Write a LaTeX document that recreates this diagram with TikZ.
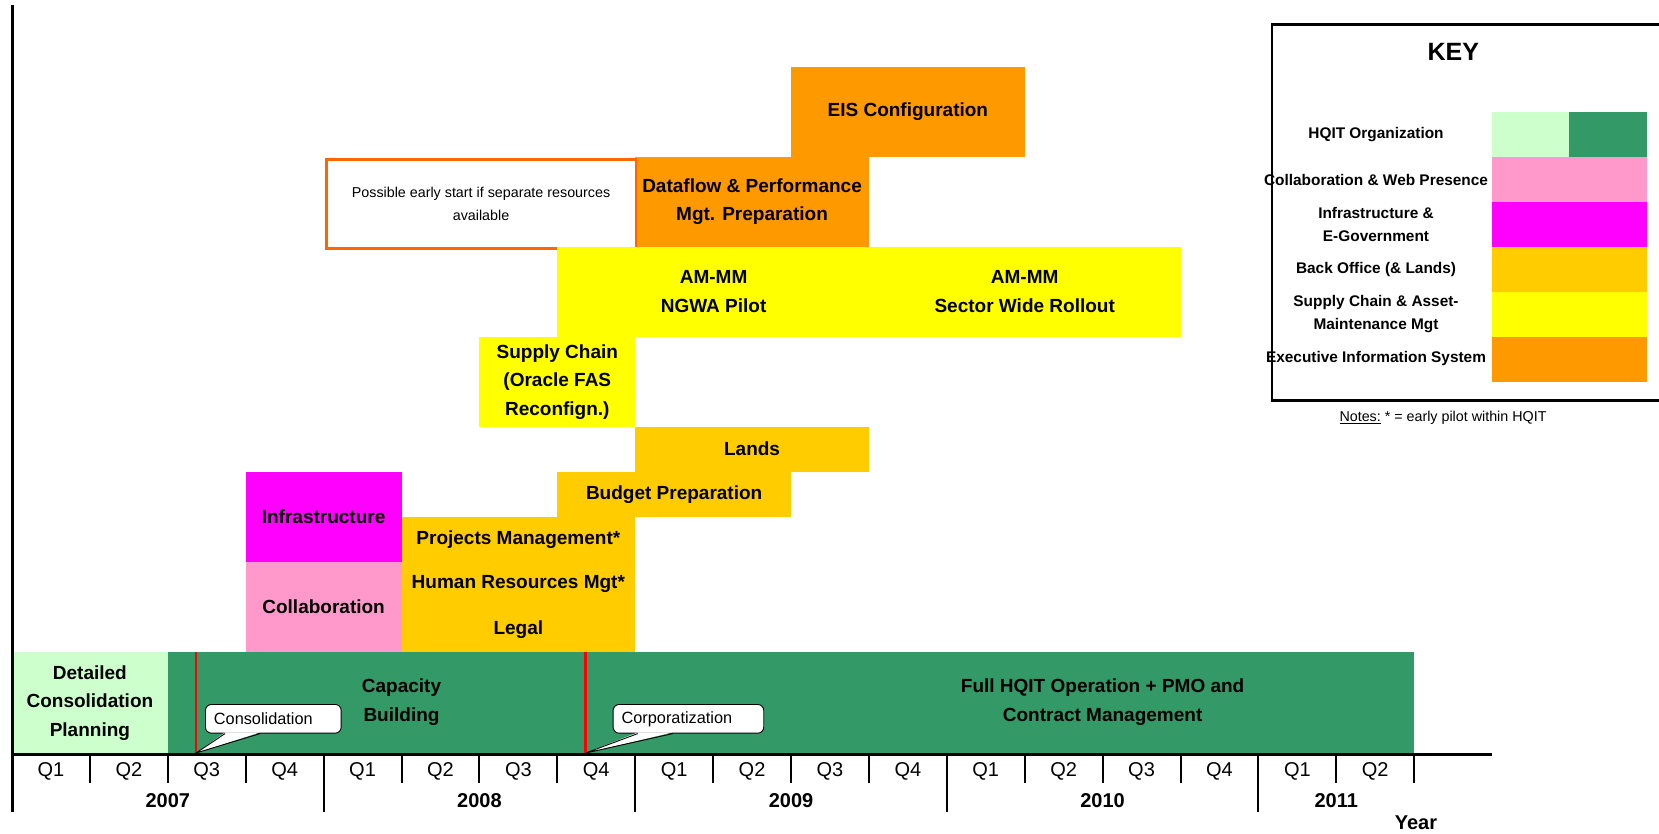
\documentclass[tikz,border=0pt]{standalone}
\usepackage{fontspec}
\setmainfont{Liberation Sans}
\usetikzlibrary{calc}
\definecolor{lgreen}{HTML}{CCFFCC}
\definecolor{dgreen}{HTML}{339966}
\definecolor{cpink}{HTML}{FF99CC}
\definecolor{cmag}{HTML}{FF00FF}
\definecolor{cgold}{HTML}{FFCC00}
\definecolor{cyel}{HTML}{FFFF00}
\definecolor{corange}{HTML}{FF9900}
\definecolor{cnote}{HTML}{FF6600}
\newcommand{\gbox}[7]{%
  \pgfmathsetmacro{\bw}{#4-#2}\pgfmathsetmacro{\bh}{#5-#3}%
  \node[blk, fill=#6, minimum width=\bw pt, minimum height=\bh pt] (#1) at (#2,#3) {#7};}
\begin{document}
\begin{tikzpicture}[x=1pt,y=-1pt,
  blk/.style={anchor=north west, inner sep=0pt, outer sep=0pt, align=center,
    font=\fontsize{19}{28.5}\selectfont\bfseries},
  qlab/.style={font=\fontsize{20}{24}\selectfont, inner sep=0pt},
  ylab/.style={font=\fontsize{20}{24}\selectfont\bfseries, inner sep=0pt},
  keylab/.style={font=\fontsize{15.4}{23}\selectfont\bfseries, align=center, inner sep=0pt},
  swatch/.style={anchor=north west, inner sep=0pt, outer sep=0pt, minimum height=45pt},
  callbox/.style={draw=black, line width=0.9pt, fill=white, rounded corners=6pt,
    anchor=north west, minimum height=28.7pt, inner xsep=8.5pt, inner ysep=0pt,
    align=left, font=\fontsize{16.3}{18}\selectfont},
  axisline/.style={line width=3pt},
  tickline/.style={line width=2pt},
  redline/.style={draw=red, line width=2.7pt}
]
\useasboundingbox (0,0) rectangle (1659,833);

% ---- upper task blocks ----
\gbox{eis}{791.0}{66.7}{1024.7}{156.7}{corange}{EIS Configuration}
\gbox{dataflow}{635.2}{156.7}{868.9}{246.7}{corange}{Dataflow \& Performance\\Mgt. Preparation}
\node[anchor=north west, draw=cnote, line width=2.5pt, fill=white, inner sep=0pt,
  minimum width=309.6pt, minimum height=89pt, align=center,
  font=\fontsize{14.3}{22.5}\selectfont] (early) at (325,158)
  {Possible early start if separate resources\\available};
\gbox{ammpilot}{557.3}{246.7}{869.9}{336.7}{cyel}{AM-MM\\NGWA Pilot}
\gbox{ammroll}{868.9}{246.7}{1180.5}{336.7}{cyel}{AM-MM\\Sector Wide Rollout}
\gbox{supply}{479.4}{336.7}{635.2}{426.7}{cyel}{Supply Chain\\(Oracle FAS\\Reconfign.)}
\gbox{lands}{635.2}{426.7}{868.9}{471.7}{cgold}{Lands}
\gbox{budget}{557.3}{471.7}{791.0}{516.7}{cgold}{Budget Preparation}
\gbox{infra}{245.7}{471.7}{401.5}{561.7}{cmag}{Infrastructure}
\gbox{collab}{245.7}{561.7}{401.5}{651.7}{cpink}{Collaboration}
\gbox{projects}{401.5}{516.7}{635.2}{561.7}{cgold}{Projects Management*}
\gbox{hr}{401.5}{561.7}{635.2}{606.7}{cgold}{Human Resources Mgt*}
\gbox{legal}{401.5}{606.7}{635.2}{651.7}{cgold}{Legal}

% ---- HQIT band ----
\gbox{detailed}{12}{651.7}{167.8}{754}{lgreen}{Detailed\\Consolidation\\Planning}
\gbox{band}{167.8}{651.7}{1414.2}{754}{dgreen}{}
\node[blk, anchor=center] (capacity) at (401.5,702) {Capacity\\Building};
\node[blk, anchor=center] (fullhqit) at (1102.6,702) {Full HQIT Operation + PMO and\\Contract Management};

% red milestone lines
\coordinate (redAtop) at (196,651.7);
\coordinate (redAbot) at (196,753);
\coordinate (redBtop) at (585.7,651.7);
\coordinate (redBbot) at (585.7,753);
\draw[redline] (redAtop) -- (redAbot);
\draw[redline] (redBtop) -- (redBbot);

% callouts
\node[callbox, minimum width=135.7pt, text width=118.7pt] (cons) at (205,704) {Consolidation};
\fill[white] ($(cons.south west)+(20,-1.2)$) -- (redAbot) -- ($(cons.south west)+(55,-1.2)$) -- cycle;
\draw[line width=0.9pt] ($(cons.south west)+(20,0)$) -- (redAbot) -- ($(cons.south west)+(55,0)$);
\node[callbox, minimum width=150.6pt, text width=133.6pt] (corp) at (612.7,704) {Corporatization};
\fill[white] ($(corp.south west)+(25,-1.2)$) -- (redBbot) -- ($(corp.south west)+(60,-1.2)$) -- cycle;
\draw[line width=0.9pt] ($(corp.south west)+(25,0)$) -- (redBbot) -- ($(corp.south west)+(60,0)$);

% ---- time axis ----
\coordinate (axtop) at (12,5);
\coordinate (axbot) at (12,812);
\coordinate (tlL) at (12,754);
\coordinate (tlR) at (1492,754);
\draw[axisline] (axtop) -- (axbot);
\draw[axisline] (tlL) -- (tlR);
\foreach \n in {1,2,3,5,6,7,9,10,11,13,14,15,17,18} {
  \draw[tickline] ({12+77.9*\n},754) -- ({12+77.9*\n},783);
}
\foreach \n in {4,8,12,16} {
  \draw[tickline] ({12+77.9*\n},754) -- ({12+77.9*\n},812);
}
\foreach \n/\q in {0/1,1/2,2/3,3/4,4/1,5/2,6/3,7/4,8/1,9/2,10/3,11/4,12/1,13/2,14/3,15/4,16/1,17/2} {
  \node[qlab] (q\n) at ({12+77.9*\n+38.95},771.7) {Q\q};
}
\node[ylab] (y2007) at (167.8,800.7) {2007};
\node[ylab] (y2008) at (479.4,800.7) {2008};
\node[ylab] (y2009) at (791.0,800.7) {2009};
\node[ylab] (y2010) at (1102.6,800.7) {2010};
\node[ylab] (y2011) at (1336.3,800.7) {2011};
\node[ylab] (yearlab) at (1416,823) {Year};

% ---- key ----
\node[draw=black, line width=2.5pt, anchor=north west, minimum width=420pt,
  minimum height=375.7pt, inner sep=0pt] (key) at (1270.7,23.3) {};
\node[font=\fontsize{25}{30}\selectfont\bfseries, inner sep=0pt] (keytitle) at (1453.3,51.7) {KEY};
\node[swatch, fill=lgreen, minimum width=77pt] (sw1a) at (1492,112) {};
\node[swatch, fill=dgreen, minimum width=78pt] (sw1b) at (1569,112) {};
\node[swatch, fill=cpink, minimum width=155pt] (sw2) at (1492,157) {};
\node[swatch, fill=cmag, minimum width=155pt] (sw3) at (1492,202) {};
\node[swatch, fill=cgold, minimum width=155pt] (sw4) at (1492,247) {};
\node[swatch, fill=cyel, minimum width=155pt] (sw5) at (1492,292) {};
\node[swatch, fill=corange, minimum width=155pt] (sw6) at (1492,337) {};
\node[keylab] (k1) at (1376,135) {HQIT Organization};
\node[keylab] (k2) at (1376,180) {Collaboration \& Web Presence};
\node[keylab] (k3) at (1376,224.2) {Infrastructure \&\\E-Government};
\node[keylab] (k4) at (1376,269.3) {Back Office (\& Lands)};
\node[keylab] (k5) at (1376,314.2) {Supply Chain \& Asset-\\Maintenance Mgt};
\node[keylab] (k6) at (1376,359) {Executive Information System};
\node[font=\fontsize{14.3}{17}\selectfont, inner sep=0pt] (notes) at (1443,417.7)
  {\underline{Notes:} * = early pilot within HQIT};
\end{tikzpicture}
\end{document}
